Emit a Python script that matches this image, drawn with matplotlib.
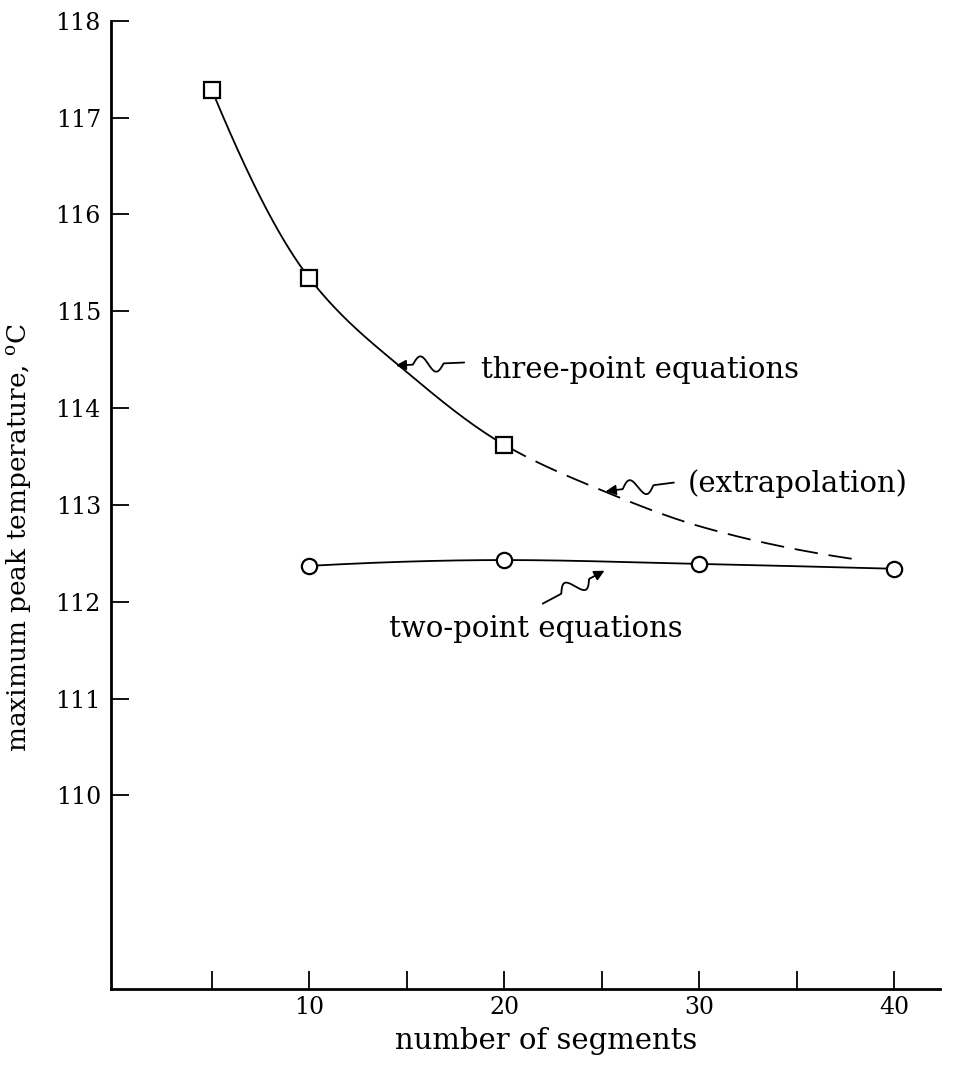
import numpy as np
import matplotlib.pyplot as plt

# three-point equations (squares) and points
seg_three = [5, 10, 20]
temp_three = [117.28, 115.34, 113.62]
curve_three_x = [5, 10, 15, 20]
curve_three_y = [117.28, 115.34, 114.37, 113.62]
# dashed extrapolation
extrap_x = [20, 25, 30, 35, 38.3]
extrap_y = [113.62, 113.15, 112.78, 112.54, 112.43]
# two-point equations (circles)
seg_two = [10, 20, 30, 40]
temp_two = [112.37, 112.43, 112.39, 112.34]

x_ticks = [5, 10, 15, 20, 25, 30, 35, 40]
x_ticklabels = ['', '10', '', '20', '', '30', '', '40']
y_ticks = [110, 111, 112, 113, 114, 115, 116, 117, 118]

plt.rcParams['font.family'] = ['DejaVu Serif']
plt.rcParams['mathtext.fontset'] = 'dejavuserif'


def smooth(x, y, n=400):
    # monotone cubic (pchip style) curve through the read points
    x = np.asarray(x, float)
    y = np.asarray(y, float)
    h = np.diff(x)
    d = np.diff(y) / h
    m = np.zeros_like(x)
    for k in range(1, len(x) - 1):
        if d[k - 1] * d[k] > 0:
            w1 = 2 * h[k] + h[k - 1]
            w2 = h[k] + 2 * h[k - 1]
            m[k] = (w1 + w2) / (w1 / d[k - 1] + w2 / d[k])
    m[0] = ((2 * h[0] + h[1]) * d[0] - h[0] * d[1]) / (h[0] + h[1])
    m[-1] = ((2 * h[-1] + h[-2]) * d[-1] - h[-1] * d[-2]) / (h[-1] + h[-2])
    if m[0] * d[0] <= 0:
        m[0] = 0
    if m[-1] * d[-1] <= 0:
        m[-1] = 0
    xs, ys = [], []
    for k in range(len(x) - 1):
        t = np.linspace(0, 1, n // (len(x) - 1))
        h00 = 2 * t**3 - 3 * t**2 + 1
        h10 = t**3 - 2 * t**2 + t
        h01 = -2 * t**3 + 3 * t**2
        h11 = t**3 - t**2
        xs.append(x[k] + t * h[k])
        ys.append(h00 * y[k] + h10 * h[k] * m[k] + h01 * y[k + 1] + h11 * h[k] * m[k + 1])
    return np.concatenate(xs), np.concatenate(ys)


def squiggle(ax, tail, tip, amp=8.0):
    p0 = ax.transData.transform(tail)
    p1 = ax.transData.transform(tip)
    v = p1 - p0
    u = v / np.hypot(*v)
    nrm = np.array([-u[1], u[0]])
    t = np.linspace(0, 1, 300)
    w = np.clip((t - 0.3) / 0.45, 0, 1)
    offs = amp * np.sin(2 * np.pi * w) * (w > 0) * (w < 1)
    pts = p0 + np.outer(t, v) + np.outer(offs, nrm)
    ax.plot(pts[:-20, 0], pts[:-20, 1], color='black', lw=1.3,
            transform=None, solid_capstyle='round')
    ax.annotate('', xy=p1, xycoords='figure pixels', xytext=pts[-22],
                textcoords='figure pixels',
                arrowprops=dict(arrowstyle='-|>', mutation_scale=15, lw=1.3,
                                color='black', shrinkA=0, shrinkB=0))


fig = plt.figure(figsize=(9.64, 10.66), dpi=100)
ax = fig.add_axes([0.1148, 0.0722, 0.975 - 0.1148, 0.9806 - 0.0722])
ax.set_xlim(-0.2, 42.35)
ax.set_ylim(108, 118)

cx, cy = smooth(curve_three_x + extrap_x[1:], curve_three_y + extrap_y[1:], n=800)
solid = cx <= 20
ax.plot(cx[solid], cy[solid], color='black', lw=1.3)
ax.plot(cx[~solid], cy[~solid], color='black', lw=1.3, linestyle=(0, (13, 6)))

tx, ty = smooth(seg_two, temp_two)
ax.plot(tx, ty, color='black', lw=1.3)

ax.plot(seg_three, temp_three, linestyle='none', marker='s', markersize=12,
        markerfacecolor='white', markeredgecolor='black', markeredgewidth=1.6)
ax.plot(seg_two, temp_two, linestyle='none', marker='o', markersize=11,
        markerfacecolor='white', markeredgecolor='black', markeredgewidth=1.6)

for side in ['top', 'right']:
    ax.spines[side].set_visible(False)
for side in ['left', 'bottom']:
    ax.spines[side].set_linewidth(2.0)

ax.set_xticks(x_ticks)
ax.set_xticklabels(x_ticklabels)
ax.set_yticks(y_ticks)
ax.tick_params(axis='both', direction='in', length=13, width=1.3, labelsize=17)
ax.tick_params(axis='y', pad=7)
ax.tick_params(axis='x', pad=5)

ax.set_xlabel('number of segments', fontsize=21)
ax.xaxis.set_label_coords(0.525, -0.039)
ax.set_ylabel(r'maximum peak temperature, $^\mathregular{o}$C', fontsize=19)
ax.yaxis.set_label_coords(-0.094, 0.466)

ax.text(18.8, 114.39, 'three-point equations', fontsize=21, va='center')
ax.text(29.4, 113.22, '(extrapolation)', fontsize=21, va='center')
ax.text(14.1, 111.72, 'two-point equations', fontsize=21, va='center')

squiggle(ax, (17.94, 114.47), (14.43, 114.44))
squiggle(ax, (28.7, 113.23), (25.2, 113.14))
squiggle(ax, (21.97, 111.98), (25.14, 112.32))

fig.savefig('out.png', dpi=100)
